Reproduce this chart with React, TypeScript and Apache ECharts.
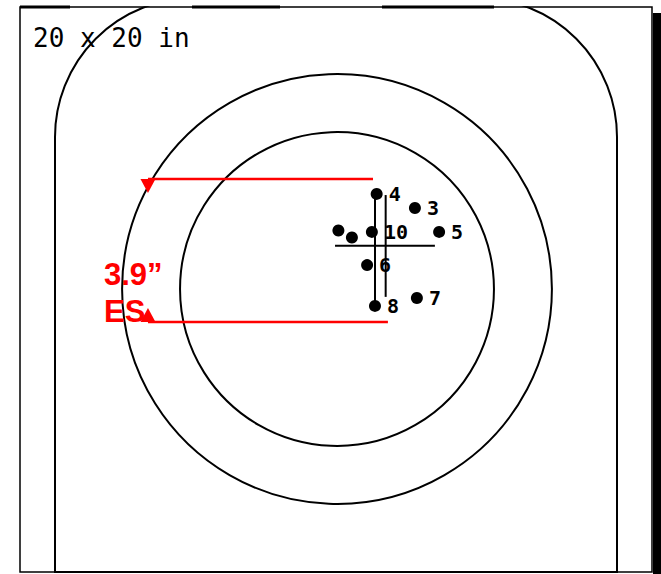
import React, { useEffect, useRef } from "react";
import * as echarts from "echarts";

// Target geometry (inches, origin at target centre)
const ringRadii = [7.64, 5.58];

// Shots (inches)
const shotLabels = ["4", "3", "10", "5", "", "", "6", "7", "8"];
const shotX = [1.41, 2.77, 1.24, 3.63, 0.05, 0.53, 1.07, 2.84, 1.35];
const shotY = [3.38, 2.88, 2.03, 2.03, 2.08, 1.83, 0.85, -0.32, -0.6];

// Group lines (inches)
const esLineX = [1.35, 1.35];
const esLineY = [3.38, -0.6];
const crossVX = [1.73, 1.73];
const crossVY = [3.34, -0.28];
const crossHX = [-0.07, 3.48];
const crossHY = [1.54, 1.54];

// Red extreme-spread annotation (inches)
const esTopX = [-6.72, 1.28];
const esTopY = [3.91, 3.91];
const esBotX = [-6.72, 1.81];
const esBotY = [-1.17, -1.17];
const arrowX = [-6.72, -6.72];
const arrowY = [3.66, -0.92];
const arrowRot = [180, 0];

const esText = "3.9\u201D";
const esLabel = "ES";
const sizeText = "20 x 20 in";

const W = 661;
const H = 574;
const K = 28.13; // px per inch
const CXP = 337;
const CYP = 289;

const pairs = (xs: number[], ys: number[]) => xs.map((x, i) => [x, ys[i]]);

export default function App() {
  const ref = useRef<HTMLDivElement>(null);
  useEffect(() => {
    if (!ref.current) return;
    const chart = echarts.init(ref.current, null, { renderer: "svg" });
    const lineSeries = (data: number[][], color: string, width: number, z = 3) => ({
      type: "line",
      data,
      symbol: "none",
      silent: true,
      z,
      lineStyle: { color, width, opacity: 1 },
    });
    chart.setOption({
      animation: false,
      backgroundColor: "#ffffff",
      grid: { left: 0, right: 0, top: 0, bottom: 0, containLabel: false },
      xAxis: { type: "value", min: -CXP / K, max: (W - CXP) / K, show: false },
      yAxis: { type: "value", min: -(H - CYP) / K, max: CYP / K, show: false },
      graphic: [
        // target silhouette
        { type: "rect", shape: { x: 55, y: -2, width: 562, height: 574, r: [139, 139, 0, 0] }, style: { fill: "none", stroke: "#000", lineWidth: 2 }, z: 1 },
        // mask above the frame
        { type: "rect", shape: { x: 0, y: 0, width: W, height: 6.2 }, style: { fill: "#fff" }, z: 2 },
        // outer frame
        { type: "rect", shape: { x: 20, y: 7, width: 632, height: 565 }, style: { fill: "none", stroke: "#000", lineWidth: 1.5 }, z: 3 },
        { type: "line", shape: { x1: 20, y1: 7, x2: 70, y2: 7 }, style: { stroke: "#000", lineWidth: 3 }, z: 3 },
        { type: "line", shape: { x1: 192, y1: 7, x2: 280, y2: 7 }, style: { stroke: "#000", lineWidth: 3 }, z: 3 },
        { type: "line", shape: { x1: 382, y1: 7, x2: 494, y2: 7 }, style: { stroke: "#000", lineWidth: 3 }, z: 3 },
        { type: "rect", shape: { x: 653, y: 13, width: 8, height: 561 }, style: { fill: "#000" }, z: 3 },
        // texts
        { type: "text", x: 33, y: 38, style: { text: sizeText, fill: "#000", font: "normal 26px 'DejaVu Sans Mono'", verticalAlign: "middle", align: "left" }, z: 100 },
        { type: "text", x: 104, y: 274, style: { text: esText, fill: "#ff0000", font: "bold 31px 'Liberation Sans'", verticalAlign: "middle", align: "left" }, z: 100 },
        { type: "text", x: 104, y: 311, style: { text: esLabel, fill: "#ff0000", font: "bold 31px 'Liberation Sans'", verticalAlign: "middle", align: "left" }, z: 100 },
      ],
      series: [
        {
          type: "custom",
          coordinateSystem: "cartesian2d",
          silent: true,
          clip: false,
          z: 2,
          encode: { x: 0, y: 1 },
          data: ringRadii.map((r) => [r, 0]),
          renderItem: (params: any, api: any) => {
            const c = api.coord([0, 0]);
            const r = api.size([api.value(0), 0])[0];
            return {
              type: "circle",
              shape: { cx: c[0], cy: c[1], r },
              style: { fill: "none", stroke: "#000", lineWidth: 2 },
            };
          },
        },
        lineSeries(pairs(esLineX, esLineY), "#000", 2),
        lineSeries(pairs(crossVX, crossVY), "#000", 2),
        lineSeries(pairs(crossHX, crossHY), "#000", 2),
        lineSeries(pairs(esTopX, esTopY), "#ff0000", 2.5, 6),
        lineSeries(pairs(esBotX, esBotY), "#ff0000", 2.5, 6),
        {
          type: "scatter",
          z: 6,
          silent: true,
          symbol: "triangle",
          symbolSize: [15, 14],
          data: arrowX.map((x, i) => ({ value: [x, arrowY[i]], symbolRotate: arrowRot[i] })),
          itemStyle: { color: "#ff0000", opacity: 1 },
        },
        {
          type: "scatter",
          z: 5,
          silent: true,
          symbol: "circle",
          symbolSize: 12,
          itemStyle: { color: "#000", opacity: 1 },
          data: shotX.map((x, i) => ({ value: [x, shotY[i]], name: shotLabels[i] })),
          label: {
            show: true,
            position: "right",
            distance: 6,
            formatter: (p: any) => p.name,
            color: "#000",
            fontFamily: "DejaVu Sans Mono",
            fontWeight: "bold",
            fontSize: 20,
          },
        },
      ],
    });
    return () => chart.dispose();
  }, []);
  return (
    <div
      ref={ref}
      style={{ position: "absolute", left: 0, top: 0, width: W, height: H, background: "#fff" }}
    />
  );
}
